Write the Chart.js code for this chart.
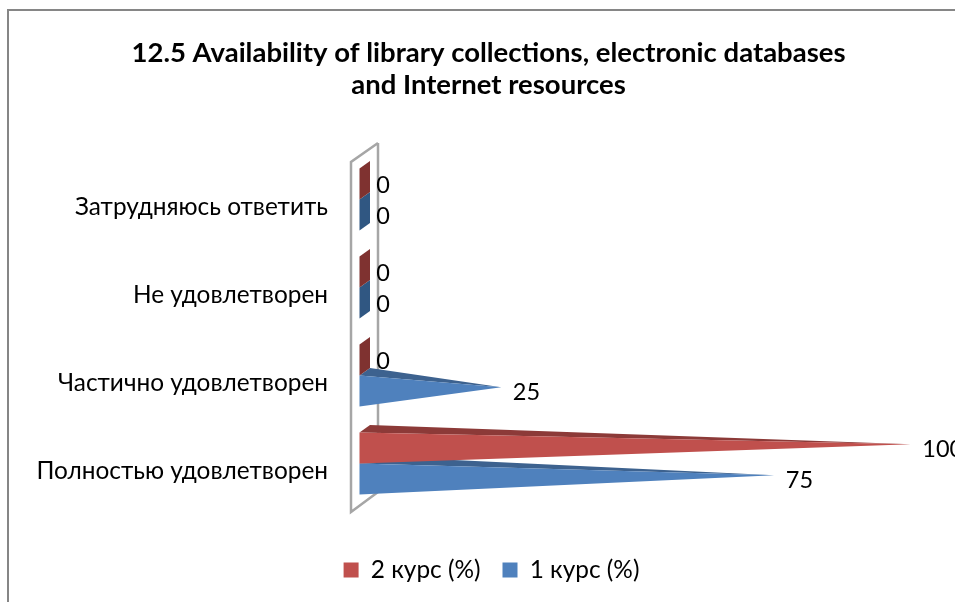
<!DOCTYPE html>
<html><head><meta charset="utf-8">
<style>html,body{margin:0;padding:0;background:#fff;overflow:hidden}canvas{display:block}</style>
<script src="https://cdn.jsdelivr.net/npm/chart.js@4"></script></head>
<body><canvas id="c" width="955" height="602"></canvas>
<script>
const titleLines = ["12.5 Availability of library collections, electronic databases", "and Internet resources"];
const categories = ["Затрудняюсь ответить", "Не удовлетворен", "Частично удовлетворен", "Полностью удовлетворен"];
const course2 = [0, 0, 0, 100];
const course1 = [0, 0, 25, 75];
const FONT = "Lato, 'Open Sans', sans-serif";
const LABEL_SIZE = 24.4;
const VALUE_SIZE = 23.5;
const DEPTH_X = 10.5, DEPTH_Y = 7.5;

const shades = {
  "#C0504D": {top: "#8C3A38", side: "#7F3230"},
  "#4F81BD": {top: "#3D628F", side: "#305782"}
};

const pyramids = {
  id: "pyramids",
  afterLayout(chart) {
    chart.legend.left += 3; chart.legend.right += 3;
  },
  beforeDraw(chart) {
    const {ctx, chartArea: a} = chart;
    ctx.save();
    ctx.strokeStyle = "#868686"; ctx.lineWidth = 2;
    ctx.beginPath(); ctx.moveTo(8, chart.height + 2); ctx.lineTo(8, 10); ctx.lineTo(chart.width + 2, 10); ctx.stroke();
    const fx = a.left - 8.5, bx = a.left + 18.5;
    const ft = a.top + 6.5, fb = a.bottom + 4.5, bt = a.top - 12.5, bb = a.bottom - 15.5;
    ctx.strokeStyle = "#A6A6A6"; ctx.lineWidth = 2.5;
    ctx.beginPath();
    ctx.moveTo(bx, bt); ctx.lineTo(bx, bb);
    ctx.moveTo(bx, bt); ctx.lineTo(fx, ft); ctx.lineTo(fx, fb); ctx.lineTo(bx, bb);
    ctx.stroke();
    ctx.restore();
  },
  beforeDatasetDraw(chart, args) {
    const {ctx} = chart;
    const ds = chart.data.datasets[args.index];
    const base = ds.backgroundColor, s = shades[base];
    ctx.save();
    args.meta.data.forEach((el, i) => {
      const v = ds.data[i];
      const x0 = el.base, top = el.y - el.height / 2, bot = el.y + el.height / 2;
      const backX = x0 + DEPTH_X;
      if (v === 0) {
        ctx.fillStyle = s.side;
        ctx.beginPath(); ctx.moveTo(x0, top); ctx.lineTo(backX, top - DEPTH_Y);
        ctx.lineTo(backX, bot - DEPTH_Y); ctx.lineTo(x0, bot); ctx.closePath(); ctx.fill();
      } else {
        const tipX = el.x + DEPTH_X / 2, tipY = el.y - DEPTH_Y / 2;
        ctx.fillStyle = s.top;
        ctx.beginPath(); ctx.moveTo(x0, top); ctx.lineTo(backX, top - DEPTH_Y); ctx.lineTo(tipX, tipY); ctx.closePath(); ctx.fill();
        ctx.fillStyle = base;
        ctx.beginPath(); ctx.moveTo(x0, top); ctx.lineTo(x0, bot); ctx.lineTo(tipX, tipY); ctx.closePath(); ctx.fill();
      }
    });
    ctx.restore();
    return false;
  },
  afterDatasetsDraw(chart) {
    const {ctx} = chart;
    ctx.save();
    ctx.fillStyle = "#000";
    ctx.font = VALUE_SIZE + "px " + FONT;
    ctx.textBaseline = "middle"; ctx.textAlign = "left";
    chart.data.datasets.forEach((ds, d) => {
      chart.getDatasetMeta(d).data.forEach((el, i) => {
        ctx.fillText(String(ds.data[i]), el.x + DEPTH_X / 2 + 11.5, el.y - DEPTH_Y / 2 + 5);
      });
    });
    ctx.restore();
  }
};

new Chart(document.getElementById("c"), {
  type: "bar",
  data: {
    labels: categories,
    datasets: [
      {label: "2 курс (%)", data: course2, backgroundColor: "#C0504D"},
      {label: "1 курс (%)", data: course1, backgroundColor: "#4F81BD"}
    ]
  },
  options: {
    indexAxis: "y",
    responsive: false,
    animation: false,
    categoryPercentage: 0.7045,
    barPercentage: 1,
    layout: {padding: {left: 71.5, right: 49.5, top: 0, bottom: 9.8}},
    scales: {
      x: {min: 0, max: 100, ticks: {display: false}, grid: {display: false}, border: {display: false},
          afterFit(s) { s.height = 28.3; }},
      y: {ticks: {color: "#000", font: {family: FONT, size: LABEL_SIZE}, padding: 23.5, labelOffset: 7.5, autoSkip: false},
          grid: {display: false}, border: {display: false},
          afterFit(s) { s.width = 288; s._computeLabelArea = () => undefined; }}
    },
    plugins: {
      tooltip: {enabled: false},
      title: {display: true, text: titleLines, color: "#000",
              font: {family: FONT, size: 27.5, weight: "bold", lineHeight: 32 / 27.5},
              padding: {top: 37, bottom: 54.5}},
      legend: {position: "bottom",
               labels: {color: "#000", font: {family: FONT, size: LABEL_SIZE}, boxWidth: 15, boxHeight: 15, padding: 22}}
    }
  },
  plugins: [pyramids]
});
</script></body></html>
